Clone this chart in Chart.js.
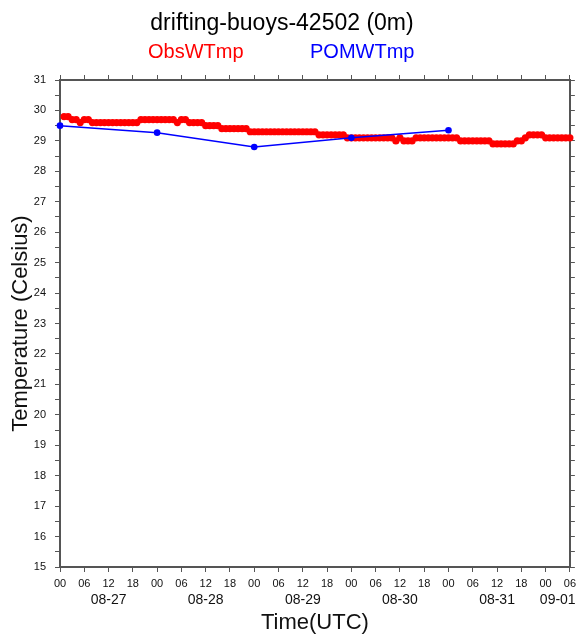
<!DOCTYPE html>
<html>
<head>
<meta charset="utf-8">
<script src="https://cdn.jsdelivr.net/npm/chart.js@4.4.0/dist/chart.umd.min.js"></script>
<style>
  html, body { margin: 0; padding: 0; background: #fff; }
</style>
</head>
<body>
<canvas id="buoyChart" width="581" height="636"></canvas>
<script>
// hourly observed water temperature, first sample at 08-27 01 UTC
const obsFirstHour = 1;
const obsTemps = [
    29.8, 29.8, 29.7, 29.7, 29.6, 29.7, 29.7, 29.6, 29.6, 29.6,
    29.6, 29.6, 29.6, 29.6, 29.6, 29.6, 29.6, 29.6, 29.6, 29.7,
    29.7, 29.7, 29.7, 29.7, 29.7, 29.7, 29.7, 29.7, 29.6, 29.7,
    29.7, 29.6, 29.6, 29.6, 29.6, 29.5, 29.5, 29.5, 29.5, 29.4,
    29.4, 29.4, 29.4, 29.4, 29.4, 29.4, 29.3, 29.3, 29.3, 29.3,
    29.3, 29.3, 29.3, 29.3, 29.3, 29.3, 29.3, 29.3, 29.3, 29.3,
    29.3, 29.3, 29.3, 29.2, 29.2, 29.2, 29.2, 29.2, 29.2, 29.2,
    29.1, 29.1, 29.1, 29.1, 29.1, 29.1, 29.1, 29.1, 29.1, 29.1,
    29.1, 29.1, 29.0, 29.1, 29.0, 29.0, 29.0, 29.1, 29.1, 29.1,
    29.1, 29.1, 29.1, 29.1, 29.1, 29.1, 29.1, 29.1, 29.0, 29.0,
    29.0, 29.0, 29.0, 29.0, 29.0, 29.0, 28.9, 28.9, 28.9, 28.9,
    28.9, 28.9, 29.0, 29.0, 29.1, 29.2, 29.2, 29.2, 29.2, 29.1,
    29.1, 29.1, 29.1, 29.1, 29.1, 29.1
];

// daily model output (hours since 08-27 00 UTC)
const modelHours = [0, 24, 48, 72, 96];
const modelTemps = [29.5, 29.27, 28.8, 29.1, 29.35];

const seriesNames = ['ObsWTmp', 'POMWTmp'];
const titleText = 'drifting-buoys-42502 (0m)';
const hourTickLabels = ['00', '06', '12', '18'];
const dayLabels = ['08-27', '08-28', '08-29', '08-30', '08-31', '09-01'];
const dayLabelHours = [12, 36, 60, 84, 108, 123];

const FONT = '"Liberation Sans", Arial, Helvetica, sans-serif';
const AXIS_GREY = '#555';

const obsPoints = obsTemps.map((t, i) => ({ x: obsFirstHour + i, y: t }));
const modelPoints = modelTemps.map((t, i) => ({ x: modelHours[i], y: t }));

// title, legend words, day labels and axis titles
const annotations = {
    id: 'annotations',
    afterDraw(chart) {
        const { ctx, chartArea, scales: { x } } = chart;
        ctx.save();
        ctx.textBaseline = 'alphabetic';

        ctx.fillStyle = '#000';
        ctx.textAlign = 'center';
        ctx.font = '23px ' + FONT;
        ctx.fillText(titleText, 282, 30);

        ctx.textAlign = 'left';
        ctx.font = '20px ' + FONT;
        ctx.fillStyle = '#ff0000';
        ctx.fillText(seriesNames[0], 148, 58);
        ctx.fillStyle = '#0000ff';
        ctx.fillText(seriesNames[1], 310, 58);

        ctx.fillStyle = '#111';
        ctx.textAlign = 'center';
        ctx.textBaseline = 'middle';
        ctx.font = '14px ' + FONT;
        dayLabels.forEach((d, i) => {
            ctx.fillText(d, x.getPixelForValue(dayLabelHours[i]), 600);
        });

        ctx.textBaseline = 'alphabetic';
        ctx.font = '22px ' + FONT;
        ctx.fillText('Time(UTC)', (chartArea.left + chartArea.right) / 2, 629);

        ctx.translate(27, (chartArea.top + chartArea.bottom) / 2);
        ctx.rotate(-Math.PI / 2);
        ctx.fillText('Temperature (Celsius)', 0, 0);
        ctx.restore();
    }
};

const frameGrid = {
    drawOnChartArea: false,
    drawTicks: true,
    tickLength: 5,
    tickColor: AXIS_GREY,
    tickWidth: 1
};
const frameBorder = { display: true, color: AXIS_GREY, width: 2 };

new Chart(document.getElementById('buoyChart'), {
    type: 'line',
    data: {
        datasets: [{
            label: seriesNames[1],
            data: modelPoints,
            borderColor: '#0000ff',
            backgroundColor: '#0000ff',
            borderWidth: 1.5,
            pointRadius: 3.3,
            pointBorderWidth: 0,
            tension: 0,
            clip: false,
            order: 0
        }, {
            label: seriesNames[0],
            data: obsPoints,
            showLine: false,
            borderColor: '#ff0000',
            backgroundColor: '#ff0000',
            pointRadius: 3.6,
            pointBorderWidth: 0,
            clip: false,
            order: 1
        }]
    },
    options: {
        responsive: false,
        animation: false,
        layout: { padding: { left: 30, right: 3, top: 72, bottom: 39 } },
        plugins: {
            legend: { display: false },
            tooltip: { enabled: false }
        },
        scales: {
            x: {
                type: 'linear',
                position: 'bottom',
                min: 0,
                max: 126,
                grid: frameGrid,
                border: frameBorder,
                ticks: {
                    stepSize: 6,
                    autoSkip: false,
                    maxRotation: 0,
                    padding: 5,
                    color: '#111',
                    font: { family: FONT, size: 11 },
                    callback: v => hourTickLabels[(v / 6) % 4]
                },
                afterFit: s => { s.height = 30; }
            },
            xTop: {
                type: 'linear',
                position: 'top',
                min: 0,
                max: 126,
                grid: frameGrid,
                border: frameBorder,
                ticks: { display: false, stepSize: 6, autoSkip: false },
                afterFit: s => { s.height = 8; }
            },
            y: {
                position: 'left',
                min: 15,
                max: 31,
                grid: frameGrid,
                border: frameBorder,
                ticks: {
                    stepSize: 0.5,
                    autoSkip: false,
                    padding: 9,
                    color: '#111',
                    font: { family: FONT, size: 11 },
                    callback: v => (Number.isInteger(v) ? String(v) : '')
                },
                afterFit: s => { s.width = 30; }
            },
            yRight: {
                position: 'right',
                min: 15,
                max: 31,
                grid: frameGrid,
                border: frameBorder,
                ticks: { display: false, stepSize: 0.5, autoSkip: false },
                afterFit: s => { s.width = 8; }
            }
        }
    },
    plugins: [annotations]
});
</script>
</body>
</html>
